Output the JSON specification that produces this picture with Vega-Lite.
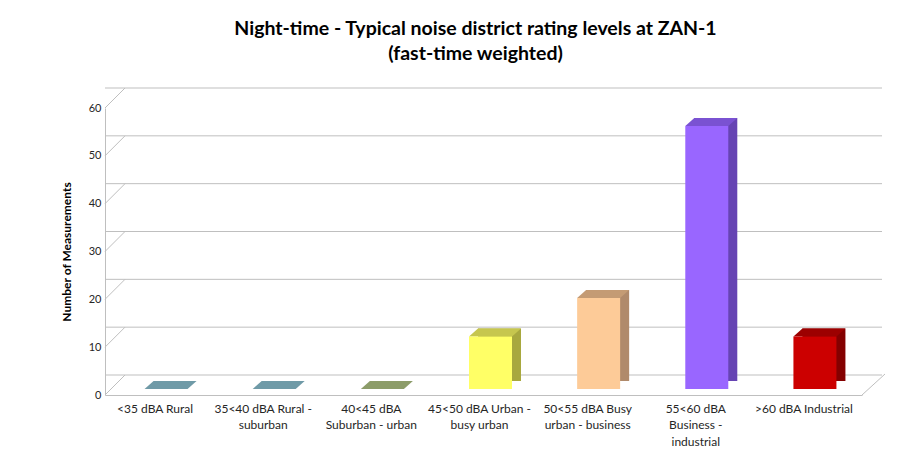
{
  "$schema": "https://vega.github.io/schema/vega-lite/v6.json",
  "width": 757,
  "height": 287,
  "autosize": "none",
  "padding": {"left": 105, "top": 108, "right": 55, "bottom": 64},
  "background": "white",
  "title": {
    "text": ["Night-time - Typical noise district rating levels at ZAN-1", "(fast-time weighted)"],
    "font": "Lato",
    "fontSize": 19.5,
    "fontWeight": "bold",
    "color": "#000000",
    "anchor": "middle",
    "dx": -8,
    "offset": 23,
    "lineHeight": 25
  },
  "config": {
    "view": {"stroke": null},
    "font": "Lato",
    "axis": {"labelFont": "Lato", "titleFont": "Lato", "labelColor": "#262626", "titleColor": "#000000"}
  },
  "datasets": {
    "bars": [
      {"category": "<35 dBA Rural", "count": 0},
      {"category": "35<40 dBA Rural - suburban", "count": 0},
      {"category": "40<45 dBA Suburban - urban", "count": 0},
      {"category": "45<50 dBA Urban - busy urban", "count": 11},
      {"category": "50<55 dBA Busy urban - business", "count": 19},
      {"category": "55<60 dBA Business  - industrial", "count": 55},
      {"category": ">60 dBA Industrial", "count": 11}
    ],
    "grid": [{"v": 0}, {"v": 10}, {"v": 20}, {"v": 30}, {"v": 40}, {"v": 50}, {"v": 60}]
  },
  "resolve": {"scale": {"color": "independent", "fill": "independent"}},
  "layer": [
    {
      "data": {"name": "grid"},
      "mark": {"type": "rule", "color": "#bfbfbf", "strokeWidth": 1, "xOffset": 20, "x2Offset": 25, "yOffset": -20},
      "encoding": {
        "y": {"field": "v", "type": "quantitative", "scale": {"domain": [0, 60]}}
      }
    },
    {
      "data": {"name": "grid"},
      "mark": {"type": "rule", "color": "#bfbfbf", "strokeWidth": 1, "x2Offset": 20, "y2Offset": -20},
      "encoding": {
        "x": {"datum": "<35 dBA Rural", "bandPosition": 0, "type": "nominal"},
        "x2": {"datum": "<35 dBA Rural", "bandPosition": 0},
        "y": {"field": "v", "type": "quantitative"},
        "y2": {"field": "v"}
      }
    },
    {
      "data": {"name": "grid"},
      "transform": [{"filter": "datum.v == 0"}],
      "mark": {"type": "rule", "color": "#bfbfbf", "strokeWidth": 1, "x2Offset": 23, "y2Offset": -21},
      "encoding": {
        "x": {"datum": ">60 dBA Industrial", "bandPosition": 1, "type": "nominal"},
        "x2": {"datum": ">60 dBA Industrial", "bandPosition": 1},
        "y": {"field": "v", "type": "quantitative"},
        "y2": {"field": "v"}
      }
    },
    {
      "data": {"name": "bars"},
      "mark": {"type": "bar", "width": 43, "xOffset": 16, "yOffset": -14, "y2Offset": -14},
      "encoding": {
        "x": {"field": "category", "type": "nominal", "sort": null},
        "y": {"field": "count", "type": "quantitative"},
        "color": {
          "field": "category", "type": "nominal", "sort": null, "legend": null,
          "scale": {
            "domain": ["<35 dBA Rural", "35<40 dBA Rural - suburban", "40<45 dBA Suburban - urban", "45<50 dBA Urban - busy urban", "50<55 dBA Busy urban - business", "55<60 dBA Business  - industrial", ">60 dBA Industrial"],
            "range": ["#5f8794", "#5f8794", "#7d8c5c", "#a8a83e", "#b08a6b", "#6644b3", "#840000"]
          }
        }
      }
    },
    {
      "data": {"name": "bars"},
      "mark": {"type": "point", "filled": true, "opacity": 1, "size": 10000, "strokeWidth": 0, "xOffset": 7, "yOffset": -6,
        "shape": "M-0.43,0L0.43,0L0.61,-0.16L-0.25,-0.16Z"},
      "encoding": {
        "x": {"field": "category", "type": "nominal", "sort": null},
        "y": {"field": "count", "type": "quantitative"},
        "fill": {
          "field": "category", "type": "nominal", "sort": null, "legend": null,
          "scale": {
            "domain": ["<35 dBA Rural", "35<40 dBA Rural - suburban", "40<45 dBA Suburban - urban", "45<50 dBA Urban - busy urban", "50<55 dBA Busy urban - business", "55<60 dBA Business  - industrial", ">60 dBA Industrial"],
            "range": ["#6f9aa7", "#6f9aa7", "#8c9c69", "#c6c64e", "#c49b74", "#7a52d2", "#9c0000"]
          }
        }
      }
    },
    {
      "data": {"name": "bars"},
      "mark": {"type": "bar", "width": 43, "xOffset": 7, "yOffset": -6, "y2Offset": -6},
      "encoding": {
        "x": {
          "field": "category", "type": "nominal", "sort": null,
          "scale": {
            "domain": ["<35 dBA Rural", "35<40 dBA Rural - suburban", "40<45 dBA Suburban - urban", "45<50 dBA Urban - busy urban", "50<55 dBA Busy urban - business", "55<60 dBA Business  - industrial", ">60 dBA Industrial"],
            "paddingInner": 0, "paddingOuter": 0
          },
          "axis": {
            "title": null,
            "labelAngle": 0,
            "labelAlign": "center",
            "labelBaseline": "top",
            "labelFontSize": 12,
            "labelLineHeight": 16.5,
            "labelPadding": 8,
            "labelLimit": 200,
            "labelOffset": -4,
            "ticks": false,
            "grid": false,
            "domainColor": "#bfbfbf",
            "domainWidth": 1,
            "labelExpr": "datum.value == '35<40 dBA Rural - suburban' ? ['35<40 dBA Rural -', 'suburban'] : datum.value == '40<45 dBA Suburban - urban' ? ['40<45 dBA', 'Suburban - urban'] : datum.value == '45<50 dBA Urban - busy urban' ? ['45<50 dBA Urban -', 'busy urban'] : datum.value == '50<55 dBA Busy urban - business' ? ['50<55 dBA Busy', 'urban - business'] : datum.value == '55<60 dBA Business  - industrial' ? ['55<60 dBA', 'Business  -', 'industrial'] : datum.value"
          }
        },
        "y": {
          "field": "count", "type": "quantitative",
          "axis": {
            "title": "Number of Measurements",
            "titleFontSize": 12,
            "titleFontWeight": "bold",
            "titlePadding": 15,
            "values": [0, 10, 20, 30, 40, 50, 60],
            "labelFontSize": 11,
            "labelPadding": 4,
            "ticks": false,
            "grid": false,
            "domainColor": "#bfbfbf",
            "domainWidth": 1
          }
        },
        "color": {
          "field": "category", "type": "nominal", "sort": null, "legend": null,
          "scale": {
            "domain": ["<35 dBA Rural", "35<40 dBA Rural - suburban", "40<45 dBA Suburban - urban", "45<50 dBA Urban - busy urban", "50<55 dBA Busy urban - business", "55<60 dBA Business  - industrial", ">60 dBA Industrial"],
            "range": ["#7ba7b4", "#7ba7b4", "#9bac78", "#ffff66", "#fdcb98", "#9966ff", "#cc0000"]
          }
        }
      }
    }
  ]
}
